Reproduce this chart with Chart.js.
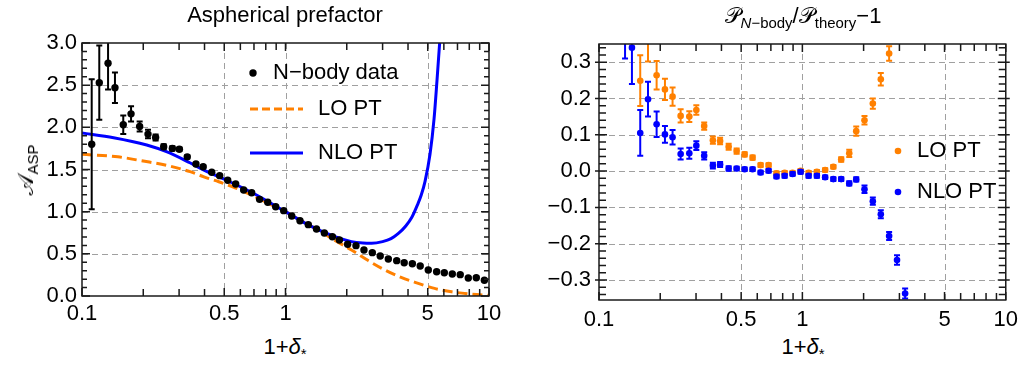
<!DOCTYPE html>
<html>
<head>
<meta charset="utf-8">
<script src="https://cdn.jsdelivr.net/npm/chart.js@4.4.1/dist/chart.umd.min.js"></script>
<style>
  body { margin: 0; background: #fff; }
  #wrap { position: relative; width: 1025px; height: 368px; font-family: "Liberation Sans", Arial, sans-serif; color: #000; }
  canvas { position: absolute; top: 0; }
  .lbl { position: absolute; white-space: nowrap; font-size: 22px; transform: translate(-50%, -50%); line-height: 1; }
  .lbl sub { font-size: 0.68em; vertical-align: baseline; position: relative; top: 0.32em; }
  .scr { font-family: "DejaVu Serif", "DejaVu Sans", serif; font-style: normal; }
</style>
</head>
<body>
<div id="wrap">
  <canvas id="left" width="510" height="330" style="left:0px;width:510px;height:330px"></canvas>
  <canvas id="right" width="515" height="330" style="left:510px;width:515px;height:330px"></canvas>

  <div class="lbl" style="left:285px;top:15px">Aspherical prefactor</div>
  <div class="lbl" style="left:803px;top:16px"><span class="scr">𝒫</span><sub><i>N</i>−body</sub>/<span class="scr">𝒫</span><sub>theory</sub>−1</div>
  <div class="lbl" style="left:26px;top:170px;transform:translate(-50%,-50%) rotate(-90deg)"><span class="scr">𝒜</span><sub>ASP</sub></div>
  <div class="lbl" style="left:285px;top:347px">1+<i>δ</i><sub>*</sub></div>
  <div class="lbl" style="left:803px;top:347px">1+<i>δ</i><sub>*</sub></div>
</div>

<script>
// bins in 1+delta (same for both panels)
const binX = [0.1116, 0.1216, 0.1343, 0.1452, 0.1595, 0.1742, 0.192, 0.211, 0.230, 0.252,
              0.278, 0.301, 0.329, 0.363, 0.394, 0.434, 0.475, 0.520, 0.569, 0.623,
              0.682, 0.746, 0.818, 0.895, 0.980, 1.073, 1.178, 1.294, 1.42, 1.552,
              1.70, 1.84, 2.02, 2.22, 2.43, 2.67, 2.92, 3.20, 3.52, 3.83,
              4.20, 4.59, 5.03, 5.53, 6.03, 6.60, 7.22, 7.91, 8.66, 9.49];

// left panel: N-body aspherical prefactor
const nbodyA = [1.80, 2.53, 2.76, 2.47, 2.03, 2.16, 2.01, 1.92, 1.88, 1.77,
                1.75, 1.74, 1.65, 1.565, 1.533, 1.467, 1.427, 1.372, 1.328, 1.257,
                1.225, 1.146, 1.111, 1.059, 1.012, 0.949, 0.893, 0.846, 0.794, 0.747,
                0.703, 0.664, 0.613, 0.597, 0.545, 0.514, 0.474, 0.439, 0.419, 0.395,
                0.383, 0.356, 0.308, 0.288, 0.276, 0.261, 0.253, 0.213, 0.217, 0.186];
const nbodyErr = [0.77, 0.44, 0.31, 0.18, 0.11, 0.09, 0.06, 0.05, 0.035, 0.03,
                  0.025, 0.02, 0.02, 0.015, 0.015, 0.012, 0.012, 0.01, 0.01, 0.01,
                  0.01, 0.01, 0.01, 0.01, 0.01, 0.01, 0.01, 0.01, 0.01, 0.01,
                  0.01, 0.01, 0.01, 0.01, 0.01, 0.01, 0.01, 0.01, 0.01, 0.01,
                  0.01, 0.01, 0.01, 0.01, 0.01, 0.01, 0.01, 0.01, 0.01, 0.01];

// theory curves
const loX = [0.1, 0.15, 0.2, 0.26, 0.34, 0.4, 0.47, 0.57, 0.68, 0.82, 1.0, 1.2, 1.45, 1.75,
             2.11, 2.55, 3.08, 3.7, 4.49, 5.4, 6.55, 8.0, 10];
const loY = [1.68, 1.65, 1.60, 1.55, 1.474, 1.41, 1.355, 1.28, 1.198, 1.10, 1.0, 0.89, 0.78, 0.66,
             0.545, 0.42, 0.308, 0.22, 0.15, 0.09, 0.05, 0.025, 0.008];
const nloX = [0.1, 0.143, 0.208, 0.26, 0.339, 0.4, 0.5, 0.68, 1.0, 1.3, 1.75, 2.11, 2.4, 2.65,
              3.0, 3.3, 3.6, 3.9, 4.17, 4.45, 4.65, 4.85, 5.13, 5.37, 5.55, 5.74, 5.9];
const nloY = [1.933, 1.877, 1.79, 1.711, 1.58, 1.49, 1.385, 1.23, 1.0, 0.84, 0.703, 0.645, 0.628, 0.625,
              0.645, 0.68, 0.745, 0.83, 0.93, 1.08, 1.2, 1.36, 1.68, 2.10, 2.55, 3.05, 3.5];

// right panel: P_Nbody / P_theory - 1
const loRatio = [null, null, null, null, 0.249, 0.36, 0.264, 0.225, 0.205, 0.152,
                 0.15, 0.168, 0.124, 0.085, 0.083, 0.067, 0.055, 0.046, 0.037, 0.0165,
                 0.0165, -0.006, -0.005, -0.005, 0.001, -0.005, -0.002, 0.003, 0.012, 0.032,
                 0.049, 0.11, 0.14, 0.186, 0.253, 0.324, null, null, null, null,
                 null, null, null, null, null, null, null, null, null, null];
const loRatioErr = [0, 0, 0, 0, 0.07, 0.058, 0.039, 0.029, 0.025, 0.018,
                    0.015, 0.013, 0.01, 0.01, 0.009, 0.008, 0.007, 0.006, 0.006, 0.005,
                    0.005, 0.005, 0.005, 0.005, 0.005, 0.005, 0.005, 0.005, 0.005, 0.006,
                    0.01, 0.013, 0.012, 0.014, 0.017, 0.02, 0, 0, 0, 0,
                    0, 0, 0, 0, 0, 0, 0, 0, 0, 0];
const nloRatio = [null, null, 0.45, 0.34, 0.105, 0.198, 0.129, 0.101, 0.093, 0.047,
                  0.049, 0.07, 0.042, 0.015, 0.018, 0.007, 0.007, 0.005, 0.005, -0.004,
                  0.001, -0.015, -0.013, -0.008, -0.002, -0.013, -0.013, -0.017, -0.022, -0.022,
                  -0.034, -0.023, -0.05, -0.083, -0.119, -0.179, -0.245, -0.337, null, null,
                  null, null, null, null, null, null, null, null, null, null];
const nloRatioErr = [0, 0, 0.14, 0.10, 0.063, 0.048, 0.035, 0.023, 0.02, 0.015,
                     0.015, 0.012, 0.01, 0.008, 0.007, 0.006, 0.005, 0.005, 0.005, 0.005,
                     0.005, 0.005, 0.005, 0.005, 0.005, 0.005, 0.005, 0.005, 0.005, 0.005,
                     0.006, 0.006, 0.01, 0.01, 0.011, 0.011, 0.013, 0.014, 0, 0,
                     0, 0, 0, 0, 0, 0, 0, 0, 0, 0];

// ticks
const xTickVals = [0.1, 0.5, 1, 5, 10];
const xTickText = ['0.1', '0.5', '1', '5', '10'];
const xMinor = [0.2, 0.3, 0.4, 0.6, 0.7, 0.8, 0.9, 2, 3, 4, 6, 7, 8, 9];
const xGrid = [0.5, 1, 5];
const leftYTicks = [0, 0.5, 1, 1.5, 2, 2.5, 3];
const leftYText = ['0.0', '0.5', '1.0', '1.5', '2.0', '2.5', '3.0'];
const leftYMinor = [0.1, 0.2, 0.3, 0.4, 0.6, 0.7, 0.8, 0.9, 1.1, 1.2, 1.3, 1.4, 1.6, 1.7, 1.8, 1.9,
                    2.1, 2.2, 2.3, 2.4, 2.6, 2.7, 2.8, 2.9];
const leftYGrid = [0.5, 1, 1.5, 2, 2.5];
const rightYTicks = [-0.3, -0.2, -0.1, 0, 0.1, 0.2, 0.3];
const rightYText = ['−0.3', '−0.2', '−0.1', '0.0', '0.1', '0.2', '0.3'];
const rightYMinor = [-0.34, -0.32, -0.28, -0.26, -0.24, -0.22, -0.18, -0.16, -0.14, -0.12,
                     -0.08, -0.06, -0.04, -0.02, 0.02, 0.04, 0.06, 0.08, 0.12, 0.14, 0.16, 0.18,
                     0.22, 0.24, 0.26, 0.28, 0.32, 0.34];

const ORANGE = '#ff8000';
const BLUE = '#0000ff';
const FONT = '"Liberation Sans", Arial, sans-serif';

function pts(xs, ys) {
    let out = [];
    xs.forEach((x, i) => { if (ys[i] !== null) out.push({x: x, y: ys[i]}); });
    return out;
}
function errs(ys, es) {
    let out = [];
    ys.forEach((y, i) => { if (y !== null) out.push(es[i]); });
    return out;
}

const frameTicks = {
    id: 'frameTicks',
    beforeDatasetsDraw(chart, args, opts) {
        const ctx = chart.ctx, a = chart.chartArea;
        const xs = chart.scales.x, ys = chart.scales.y;
        ctx.save();
        ctx.strokeStyle = '#a0a0a0';
        ctx.lineWidth = 1;
        ctx.setLineDash([6, 4]);
        opts.xGrid.forEach(v => {
            const p = Math.round(xs.getPixelForValue(v)) + 0.5;
            ctx.beginPath(); ctx.moveTo(p, a.top); ctx.lineTo(p, a.bottom); ctx.stroke();
        });
        opts.yGrid.forEach(v => {
            const p = Math.round(ys.getPixelForValue(v)) + 0.5;
            ctx.beginPath(); ctx.moveTo(a.left, p); ctx.lineTo(a.right, p); ctx.stroke();
        });
        ctx.restore();
    },
    beforeDatasetDraw(chart, args) {
        const ds = chart.data.datasets[args.index];
        if (!ds.errors) return;
        const ctx = chart.ctx, a = chart.chartArea;
        const xs = chart.scales.x, ys = chart.scales.y;
        ctx.save();
        ctx.beginPath();
        ctx.rect(a.left, a.top, a.right - a.left, a.bottom - a.top);
        ctx.clip();
        ctx.strokeStyle = ds.backgroundColor;
        ctx.lineWidth = 2;
        ds.data.forEach((d, i) => {
            const e = ds.errors[i];
            if (!e) return;
            const px = xs.getPixelForValue(d.x);
            const y0 = ys.getPixelForValue(d.y - e), y1 = ys.getPixelForValue(d.y + e);
            ctx.beginPath();
            ctx.moveTo(px, y0); ctx.lineTo(px, y1);
            ctx.moveTo(px - 3, y0); ctx.lineTo(px + 3, y0);
            ctx.moveTo(px - 3, y1); ctx.lineTo(px + 3, y1);
            ctx.stroke();
        });
        ctx.restore();
    },
    afterDatasetsDraw(chart, args, opts) {
        const ctx = chart.ctx, a = chart.chartArea;
        const xs = chart.scales.x, ys = chart.scales.y;
        ctx.save();
        ctx.strokeStyle = '#1a1a1a';
        ctx.lineWidth = 1.5;
        // inward ticks on all four sides
        const tick = (vals, len, out, horiz) => {
            vals.forEach(v => {
                ctx.beginPath();
                if (horiz) {
                    const p = xs.getPixelForValue(v);
                    ctx.moveTo(p, a.bottom + out); ctx.lineTo(p, a.bottom - len);
                    ctx.moveTo(p, a.top - out); ctx.lineTo(p, a.top + len);
                } else {
                    const p = ys.getPixelForValue(v);
                    ctx.moveTo(a.left - out, p); ctx.lineTo(a.left + len, p);
                    ctx.moveTo(a.right + out, p); ctx.lineTo(a.right - len, p);
                }
                ctx.stroke();
            });
        };
        tick(xTickVals, 8, 0, true);
        tick(xMinor, 7, 0, true);
        tick(opts.yMajor, 8, opts.yOut, false);
        tick(opts.yMinor, opts.yMinorLen, 0, false);
        ctx.strokeRect(a.left, a.top, a.right - a.left, a.bottom - a.top);
        // legend
        ctx.font = '22px ' + FONT;
        ctx.textBaseline = 'middle';
        ctx.fillStyle = '#000';
        opts.legend.forEach(L => {
            ctx.save();
            if (L.type === 'dot') {
                ctx.fillStyle = L.color;
                ctx.beginPath(); ctx.arc(L.x, L.y, L.r, 0, Math.PI * 2); ctx.fill();
            } else {
                ctx.strokeStyle = L.color;
                ctx.lineWidth = 3;
                if (L.type === 'dash') ctx.setLineDash([8, 4]);
                ctx.beginPath(); ctx.moveTo(L.x, L.y); ctx.lineTo(L.x2, L.y); ctx.stroke();
            }
            ctx.restore();
            ctx.fillText(L.text, L.tx, L.y);
        });
        ctx.restore();
    }
};

function xScale(height, pad) {
    return {
        type: 'logarithmic', min: 0.1, max: 10,
        afterBuildTicks: s => { s.ticks = xTickVals.map(v => ({value: v})); },
        afterFit: s => { s.height = height; },
        grid: {display: false, drawTicks: false},
        border: {display: false},
        ticks: {
            autoSkip: false, maxRotation: 0, padding: pad, color: '#000',
            font: {family: FONT, size: 22},
            callback: (v, i) => xTickText[i]
        }
    };
}
function yScale(min, max, vals, text, width, pad) {
    return {
        type: 'linear', min: min, max: max,
        afterBuildTicks: s => { s.ticks = vals.map(v => ({value: v})); },
        afterFit: s => { s.width = width; },
        grid: {display: false, drawTicks: false},
        border: {display: false},
        ticks: {
            padding: pad, color: '#000',
            font: {family: FONT, size: 22},
            callback: (v, i) => text[i]
        }
    };
}

new Chart(document.getElementById('left'), {
    type: 'scatter',
    data: {
        datasets: [
            {
                label: 'N−body data', data: pts(binX, nbodyA), errors: errs(nbodyA, nbodyErr),
                backgroundColor: '#000', borderColor: '#000', pointRadius: 3.7, pointBorderWidth: 0
            },
            {
                label: 'NLO PT', type: 'line', data: pts(nloX, nloY),
                borderColor: BLUE, borderWidth: 3, pointRadius: 0, cubicInterpolationMode: 'monotone', fill: false
            },
            {
                label: 'LO PT', type: 'line', data: pts(loX, loY),
                borderColor: ORANGE, borderWidth: 3, borderDash: [10, 5], pointRadius: 0,
                cubicInterpolationMode: 'monotone', fill: false
            }
        ]
    },
    options: {
        responsive: false, animation: false,
        layout: {padding: {top: 43, right: 21, left: 0, bottom: 0}},
        scales: {
            x: xScale(34, 5),
            y: yScale(0, 3, leftYTicks, leftYText, 82, 5)
        },
        plugins: {
            legend: {display: false}, tooltip: {enabled: false},
            frameTicks: {
                xGrid: xGrid, yGrid: leftYGrid, yMajor: leftYTicks, yMinor: leftYMinor, yOut: 0, yMinorLen: 5,
                legend: [
                    {type: 'dot', color: '#000', r: 3.7, x: 253, y: 73, tx: 273, text: 'N−body data'},
                    {type: 'dash', color: ORANGE, x: 250, x2: 303, y: 109, tx: 318, text: 'LO PT'},
                    {type: 'line', color: BLUE, x: 250, x2: 303, y: 153, tx: 318, text: 'NLO PT'}
                ]
            }
        }
    },
    plugins: [frameTicks]
});

new Chart(document.getElementById('right'), {
    type: 'scatter',
    data: {
        datasets: [
            {
                label: 'NLO PT', data: pts(binX, nloRatio), errors: errs(nloRatio, nloRatioErr),
                backgroundColor: BLUE, borderColor: BLUE, pointRadius: 3.3, pointBorderWidth: 0
            },
            {
                label: 'LO PT', data: pts(binX, loRatio), errors: errs(loRatio, loRatioErr),
                backgroundColor: ORANGE, borderColor: ORANGE, pointRadius: 3.3, pointBorderWidth: 0
            }
        ]
    },
    options: {
        responsive: false, animation: false,
        layout: {padding: {top: 44, right: 17, left: 0, bottom: 0}},
        scales: {
            x: xScale(30, 7),
            y: yScale(-0.355, 0.35, rightYTicks, rightYText, 89, 8)
        },
        plugins: {
            legend: {display: false}, tooltip: {enabled: false},
            frameTicks: {
                xGrid: xGrid, yGrid: rightYTicks, yMajor: rightYTicks, yMinor: rightYMinor, yOut: 4, yMinorLen: 7,
                legend: [
                    {type: 'dot', color: ORANGE, r: 3.3, x: 388, y: 151, tx: 407, text: 'LO PT'},
                    {type: 'dot', color: BLUE, r: 3.3, x: 388, y: 192, tx: 407, text: 'NLO PT'}
                ]
            }
        }
    },
    plugins: [frameTicks]
});
</script>
</body>
</html>
